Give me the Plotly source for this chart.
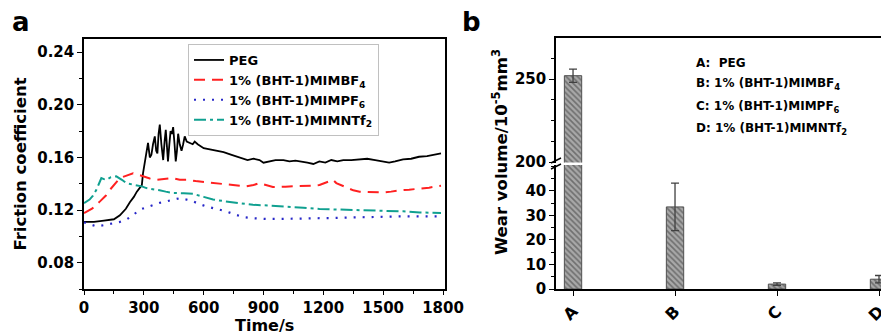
import plotly.graph_objects as go

# ---------------- Data: panel a (friction coefficient vs time) ----------------
peg_t = [0, 50, 100, 150, 180, 210, 230, 250, 265, 280,
         290, 296, 305, 313, 321, 330, 338, 346, 355, 362,
         368, 374, 380, 388, 397, 404, 410, 416, 421, 428,
         434, 441, 447, 454, 460, 466, 472, 480, 489, 497,
         505, 515, 530, 545, 555, 570, 600, 630, 660, 700,
         740, 780, 820, 850, 880, 900, 930, 960, 1000, 1030,
         1060, 1090, 1120, 1150, 1180, 1210, 1240, 1270, 1300, 1340,
         1380, 1420, 1460, 1500, 1530, 1560, 1600, 1640, 1680, 1720,
         1760, 1790]
peg_v = [0.111, 0.111, 0.112, 0.113, 0.116, 0.121, 0.126, 0.130, 0.134, 0.137,
         0.139, 0.148, 0.156, 0.163, 0.171, 0.160, 0.162, 0.170, 0.176, 0.165,
         0.163, 0.178, 0.185, 0.170, 0.158, 0.172, 0.181, 0.168, 0.157, 0.170,
         0.180, 0.178, 0.183, 0.170, 0.157, 0.165, 0.178, 0.170, 0.165, 0.170,
         0.176, 0.172, 0.171, 0.170, 0.172, 0.170, 0.167, 0.166, 0.165, 0.164,
         0.162, 0.160, 0.158, 0.159, 0.158, 0.156, 0.157, 0.158, 0.158, 0.157,
         0.1575, 0.157, 0.156, 0.155, 0.157, 0.156, 0.158, 0.157, 0.158, 0.158,
         0.1585, 0.159, 0.158, 0.157, 0.156, 0.157, 0.1585, 0.159, 0.1605, 0.161,
         0.162, 0.163]

bf4_t = [0, 40, 80, 110, 130, 160, 180, 210, 246, 270,
         296, 330, 363, 400, 446, 480, 513, 560, 613, 680,
         747, 813, 850, 880, 910, 947, 1010, 1081, 1140, 1181,
         1220, 1248, 1265, 1290, 1315, 1350, 1382, 1440, 1500, 1540,
         1583, 1630, 1683, 1730, 1767, 1790]
bf4_v = [0.1177, 0.121, 0.1266, 0.131, 0.1354, 0.141, 0.1443, 0.146, 0.148, 0.147,
         0.1456, 0.144, 0.143, 0.1435, 0.1443, 0.143, 0.143, 0.142, 0.141, 0.140,
         0.139, 0.138, 0.139, 0.1405, 0.139, 0.1375, 0.1378, 0.138, 0.1385, 0.139,
         0.141, 0.143, 0.1405, 0.139, 0.137, 0.135, 0.134, 0.1335, 0.1334, 0.134,
         0.135, 0.1355, 0.136, 0.137, 0.138, 0.1385]

pf6_t = [0, 30, 62, 100, 145, 180, 212, 245, 279, 310,
         346, 380, 413, 450, 480, 513, 546, 580, 613, 660,
         713, 760, 797, 850, 914, 1000, 1081, 1160, 1248, 1330,
         1415, 1500, 1583, 1680, 1767, 1790]
pf6_v = [0.1106, 0.109, 0.1076, 0.1085, 0.1096, 0.111, 0.1127, 0.116, 0.1203, 0.122,
         0.124, 0.1255, 0.1266, 0.128, 0.129, 0.128, 0.1266, 0.1245, 0.1228, 0.121,
         0.119, 0.1165, 0.1147, 0.1138, 0.1132, 0.1133, 0.1134, 0.1137, 0.114, 0.1143,
         0.1147, 0.115, 0.1152, 0.1152, 0.115, 0.1152]

ntf2_t = [0, 28, 45, 62, 75, 87, 100, 112, 135, 162,
          190, 212, 240, 262, 290, 313, 345, 379, 410, 446,
          500, 546, 600, 647, 700, 747, 800, 847, 930, 1015,
          1100, 1181, 1260, 1349, 1430, 1516, 1600, 1683, 1767, 1790]
ntf2_v = [0.1253, 0.128, 0.131, 0.1354, 0.140, 0.1443, 0.1435, 0.143, 0.145, 0.1456,
          0.143, 0.1405, 0.1395, 0.139, 0.138, 0.1367, 0.136, 0.135, 0.134, 0.133,
          0.1328, 0.1324, 0.130, 0.128, 0.1268, 0.1258, 0.1248, 0.124, 0.1234, 0.1228,
          0.1218, 0.1208, 0.1205, 0.1203, 0.1199, 0.1195, 0.119, 0.1182, 0.1177, 0.1178]

series_names = ["PEG", "1% (BHT-1)MIMBF<sub>4</sub>",
                "1% (BHT-1)MIMPF<sub>6</sub>", "1% (BHT-1)MIMNTf<sub>2</sub>"]

# ---------------- Data: panel b (wear volume) ----------------
samples = ["A", "B", "C", "D"]
wear = [252, 33.5, 2.0, 4.0]
wear_err = [4.0, 9.7, 0.5, 1.5]
sample_labels = ["A:  PEG", "B: 1% (BHT-1)MIMBF<sub>4</sub>",
                 "C: 1% (BHT-1)MIMPF<sub>6</sub>", "D: 1% (BHT-1)MIMNTf<sub>2</sub>"]

# page body has an 8px margin: place the figure so it fills the window
OX, OY = 8, 8
W, H = 889 - OX, 333 - OY
FONT = "DejaVu Sans, Liberation Sans, Arial, sans-serif"


def px(x):
    return (x - OX) / W


def py(y):
    return (H - (y - OY)) / H


fig = go.Figure()

line_styles = [
    dict(color="#000000", width=1.8, dash="solid"),
    dict(color="#ff2020", width=2.0, dash="11px,7px"),
    dict(color="#2828c8", width=2.2, dash="2px,7px"),
    dict(color="#10a090", width=2.0, dash="12px,4px,3px,4px"),
]
for name, tt, vv, st in zip(series_names,
                            [peg_t, bf4_t, pf6_t, ntf2_t],
                            [peg_v, bf4_v, pf6_v, ntf2_v],
                            line_styles):
    fig.add_trace(go.Scatter(x=tt, y=vv, mode="lines", name=name, line=st,
                             xaxis="x", yaxis="y"))

bar_kw = dict(
    width=0.17,
    marker=dict(color="#9a9a9a",
                line=dict(color="#505050", width=1),
                pattern=dict(shape="\\", fgcolor="#353535", bgcolor="#a8a8a8",
                             size=4, solidity=0.4)),
    error_y=dict(type="data", array=wear_err, color="#404040",
                 thickness=1.3, width=4),
    showlegend=False,
)
fig.add_trace(go.Bar(x=samples, y=wear, xaxis="x2", yaxis="y2", **bar_kw))
fig.add_trace(go.Bar(x=samples, y=wear, xaxis="x3", yaxis="y3", **bar_kw))

tickfont = dict(family=FONT, size=15, color="black", weight="bold")
titlefont = dict(family=FONT, size=16.5, color="black", weight="bold")

common_axis = dict(showline=True, linecolor="black", linewidth=1.5,
                   ticks="outside", ticklen=5, tickwidth=1.3, tickcolor="black",
                   showgrid=False, zeroline=False, automargin=False,
                   tickfont=tickfont)

fig.update_layout(
    width=W, height=H,
    margin=dict(l=0, r=0, t=0, b=0),
    paper_bgcolor="white", plot_bgcolor="white",
    barmode="overlay",
    xaxis=dict(domain=[px(84), px(445)], anchor="y", range=[0, 1810],
               tickmode="linear", tick0=0, dtick=300, mirror=True,
               minor=dict(dtick=150, ticklen=3, ticks="outside", tickcolor="black"),
               **{**common_axis, "ticklen": 4}),
    yaxis=dict(domain=[py(289), py(39)], anchor="x", range=[0.06, 0.25],
               tickmode="linear", tick0=0.08, dtick=0.04, tickformat=".2f",
               mirror=True,
               minor=dict(dtick=0.02, ticklen=3, ticks="outside", tickcolor="black"),
               title=dict(text="Friction coefficient", font=titlefont, standoff=6),
               **common_axis),
    xaxis2=dict(domain=[px(556), 1.0], anchor="y2", range=[-0.167, 3.098],
                type="category", tickangle=-45,
                **{**common_axis, "tickfont": dict(family=FONT, size=16,
                                                   color="black", weight="bold")}),
    yaxis2=dict(domain=[py(289), py(165)], anchor="x2", range=[0, 50.6],
                tickmode="array", tickvals=[0, 10, 20, 30, 40],
                minor=dict(tickmode="array", tickvals=[5, 15, 25, 35, 45, 50],
                           ticklen=3, ticks="outside", tickcolor="black"),
                **common_axis),
    xaxis3=dict(domain=[px(556), 1.0], anchor="y3", range=[-0.167, 3.098],
                type="category", side="top", showline=True, linecolor="black",
                linewidth=1.5, ticks="", showticklabels=False, showgrid=False,
                zeroline=False, automargin=False, matches="x2"),
    yaxis3=dict(domain=[py(162.5), py(38)], anchor="x3", range=[199.7, 274.7],
                tickmode="array", tickvals=[200, 250],
                minor=dict(tickmode="array", tickvals=[225, 262.5, 212.5, 237.5],
                           ticklen=3, ticks="outside", tickcolor="black"),
                **common_axis),
    legend=dict(x=px(188), y=py(44), xanchor="left", yanchor="top",
                bgcolor="rgba(255,255,255,0)", bordercolor="#c0c0c0", borderwidth=1,
                font=dict(family=FONT, size=13, color="black", weight="bold"),
                tracegroupgap=0, itemwidth=30),
    showlegend=True,
)

annotations = [
    dict(text="a", x=px(10), y=py(22), xref="paper", yref="paper",
         xanchor="left", yanchor="middle", showarrow=False,
         font=dict(family=FONT, size=26, color="black", weight="bold")),
    dict(text="b", x=px(460), y=py(22), xref="paper", yref="paper",
         xanchor="left", yanchor="middle", showarrow=False,
         font=dict(family=FONT, size=26, color="black", weight="bold")),
    dict(text="Time/s", x=px(264.5), y=py(325.5), xref="paper", yref="paper",
         xanchor="center", yanchor="middle", showarrow=False,
         font=dict(family=FONT, size=16, color="black", weight="bold")),
    dict(text="Wear volume/10<sup>-5</sup>mm<sup>3</sup>", x=px(500), y=py(152),
         xref="paper", yref="paper", textangle=-90, showarrow=False,
         xanchor="center", yanchor="middle", font=titlefont),
]
label_y = [63, 84, 107, 129]
for txt, yy in zip(sample_labels, label_y):
    annotations.append(dict(text=txt, x=px(694), y=py(yy), xref="paper", yref="paper",
                            xanchor="left", yanchor="middle", showarrow=False,
                            font=dict(family=FONT, size=12, color="black", weight="bold")))
fig.update_layout(annotations=annotations)

# axis-break marks on the left axis of panel b
for yb in (160.5, 166.5):
    fig.add_shape(type="line", xref="paper", yref="paper",
                  x0=px(551), y0=py(yb + 2.5), x1=px(561), y1=py(yb - 2.5),
                  line=dict(color="black", width=1.4))

fig.write_html("out.html")
